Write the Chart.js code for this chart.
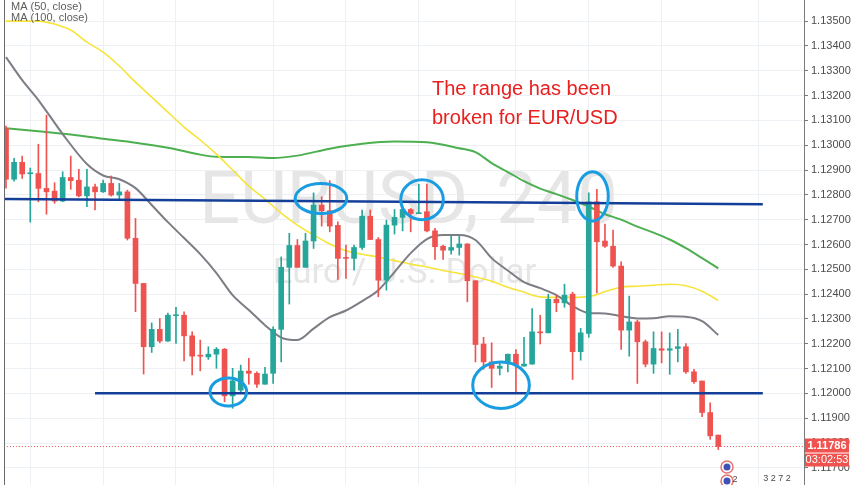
<!DOCTYPE html>
<html>
<head>
<meta charset="utf-8">
<script src="https://cdn.jsdelivr.net/npm/chart.js@4.4.1/dist/chart.umd.min.js"></script>
<style>
html, body { margin: 0; padding: 0; background: #fff; }
#wrap { width: 852px; height: 485px; }
</style>
</head>
<body>
<div id="wrap"><canvas id="c" width="852" height="485"></canvas></div>
<script>
// EURUSD 4h candles (index = candle number)
var opens = [1.13068, 1.12863, 1.12931, 1.12885, 1.12886, 1.12826, 1.12815, 1.12775, 1.12870, 1.12859,
  1.12796, 1.12832, 1.12812, 1.12846, 1.12799, 1.12812, 1.12625, 1.12443, 1.12188, 1.12258,
  1.12211, 1.12313, 1.12315, 1.12232, 1.12152, 1.12147, 1.12158, 1.12178, 1.11990, 1.12013,
  1.12090, 1.12081, 1.12037, 1.12081, 1.12258, 1.12508, 1.12596, 1.12508, 1.12614, 1.12759,
  1.12736, 1.12677, 1.12546, 1.12544, 1.12588, 1.12714, 1.12620, 1.12456, 1.12678, 1.12709,
  1.12741, 1.12724, 1.12732, 1.12655, 1.12593, 1.12577, 1.12588, 1.12602, 1.12454, 1.12199,
  1.12127, 1.12101, 1.12121, 1.12158, 1.12110, 1.12118, 1.12248, 1.12244, 1.12379, 1.12365,
  1.12400, 1.12168, 1.12242, 1.12772, 1.12614, 1.12593, 1.12513, 1.12255, 1.12288, 1.12208,
  1.12118, 1.12180, 1.12174, 1.12181, 1.12188, 1.12087, 1.12050, 1.11923, 1.11832];
var highs = [1.13077, 1.12947, 1.12956, 1.12908, 1.13004, 1.13121, 1.12849, 1.12893, 1.12956, 1.12903,
  1.12903, 1.12843, 1.12859, 1.12876, 1.12846, 1.12819, 1.12705, 1.12443, 1.12284, 1.12302,
  1.12324, 1.12347, 1.12329, 1.12248, 1.12215, 1.12188, 1.12185, 1.12181, 1.12101, 1.12114,
  1.12141, 1.12087, 1.12105, 1.12268, 1.12550, 1.12645, 1.12620, 1.12645, 1.12808, 1.12792,
  1.12857, 1.12691, 1.12598, 1.12598, 1.12739, 1.12739, 1.12628, 1.12698, 1.12741, 1.12752,
  1.12745, 1.12843, 1.12843, 1.12665, 1.12598, 1.12634, 1.12634, 1.12604, 1.12454, 1.12226,
  1.12204, 1.12121, 1.12158, 1.12177, 1.12226, 1.12342, 1.12315, 1.12400, 1.12396, 1.12440,
  1.12408, 1.12262, 1.12808, 1.12822, 1.12682, 1.12658, 1.12530, 1.12392, 1.12295, 1.12215,
  1.12248, 1.12248, 1.12244, 1.12258, 1.12201, 1.12097, 1.12050, 1.11962, 1.11832];
var lows = [1.12827, 1.12855, 1.12866, 1.12690, 1.12772, 1.12722, 1.12766, 1.12772, 1.12822, 1.12792,
  1.12752, 1.12739, 1.12810, 1.12795, 1.12782, 1.12618, 1.12329, 1.12078, 1.12165, 1.12204,
  1.12209, 1.12201, 1.12131, 1.12074, 1.12091, 1.12137, 1.12101, 1.11966, 1.11940, 1.12006,
  1.12037, 1.12024, 1.12037, 1.12040, 1.12127, 1.12360, 1.12508, 1.12508, 1.12584, 1.12674,
  1.12651, 1.12459, 1.12463, 1.12497, 1.12580, 1.12620, 1.12389, 1.12416, 1.12642, 1.12655,
  1.12651, 1.12725, 1.12651, 1.12540, 1.12540, 1.12561, 1.12557, 1.12369, 1.12127, 1.12097,
  1.12024, 1.12074, 1.12087, 1.12000, 1.12110, 1.12118, 1.12199, 1.12244, 1.12329, 1.12347,
  1.12056, 1.12134, 1.12226, 1.12405, 1.12588, 1.12508, 1.12177, 1.12150, 1.12040, 1.12107,
  1.12081, 1.12123, 1.12077, 1.12127, 1.12081, 1.12040, 1.11906, 1.11815, 1.11774];
var closes = [1.12863, 1.12931, 1.12884, 1.12887, 1.12826, 1.12812, 1.12775, 1.12870, 1.12857, 1.12796,
  1.12832, 1.12812, 1.12846, 1.12799, 1.12812, 1.12625, 1.12443, 1.12188, 1.12258, 1.12211,
  1.12315, 1.12315, 1.12232, 1.12150, 1.12150, 1.12158, 1.12178, 1.11990, 1.12051, 1.12090,
  1.12081, 1.12037, 1.12078, 1.12258, 1.12508, 1.12596, 1.12508, 1.12614, 1.12759, 1.12736,
  1.12674, 1.12544, 1.12544, 1.12588, 1.12714, 1.12620, 1.12456, 1.12678, 1.12709, 1.12741,
  1.12725, 1.12728, 1.12655, 1.12591, 1.12577, 1.12588, 1.12602, 1.12454, 1.12197, 1.12127,
  1.12101, 1.12110, 1.12158, 1.12114, 1.12118, 1.12248, 1.12244, 1.12379, 1.12365, 1.12396,
  1.12168, 1.12244, 1.12772, 1.12611, 1.12593, 1.12513, 1.12255, 1.12288, 1.12208, 1.12118,
  1.12181, 1.12174, 1.12180, 1.12188, 1.12087, 1.12047, 1.11923, 1.11829, 1.11786];
var lastPrice = 1.11786;

// moving averages, sampled at candle indexes
var grayIdx = [0, 2, 4, 7, 10, 12, 14, 16, 18, 20, 22, 24, 26, 28, 30, 32, 34, 36, 38, 40, 42, 44,
  46, 48, 50, 52, 54, 56, 58, 60, 62, 64, 66, 68, 70, 72, 74, 76, 78, 80, 82, 84, 86, 88];
var grayMa = [1.13355, 1.13262, 1.13182, 1.13045, 1.12924, 1.12878, 1.12863, 1.12827, 1.12759, 1.12690,
  1.12626, 1.12561, 1.12485, 1.12396, 1.12336, 1.12275, 1.12225, 1.12215, 1.12261, 1.12307, 1.12334,
  1.12372, 1.12416, 1.12489, 1.12565, 1.12622, 1.12638, 1.12638, 1.12618, 1.12545, 1.12495, 1.12448,
  1.12424, 1.12396, 1.12352, 1.12324, 1.12322, 1.12311, 1.12302, 1.12303, 1.12311, 1.12309, 1.12291, 1.12235];
var ma50Idx = [0, 4, 6, 8, 10, 12, 14, 16, 18, 20, 22, 24, 26, 28, 30, 32, 34, 36, 38, 40, 42, 44,
  46, 48, 50, 52, 54, 56, 58, 60, 62, 64, 66, 68, 70, 72, 74, 76, 78, 80, 82, 84, 86, 88];
var ma50 = [1.13500, 1.13500, 1.13488, 1.13464, 1.13415, 1.13375, 1.13319, 1.13254, 1.13194, 1.13133,
  1.13073, 1.13021, 1.12964, 1.12900, 1.12835, 1.12783, 1.12726, 1.12678, 1.12638, 1.12602, 1.12575,
  1.12561, 1.12549, 1.12535, 1.12521, 1.12509, 1.12495, 1.12483, 1.12469, 1.12452, 1.12428, 1.12408,
  1.12389, 1.12387, 1.12387, 1.12390, 1.12410, 1.12428, 1.12432, 1.12436, 1.12440, 1.12434, 1.12412, 1.12374];
var ma100Idx = [0, 4, 8, 12, 16, 20, 24, 26, 30, 33, 36, 40, 44, 48, 52, 56, 58, 60, 62, 64, 66, 68,
  70, 72, 74, 76, 78, 80, 82, 84, 86, 88];
var ma100 = [1.13068, 1.13056, 1.13043, 1.13026, 1.13010, 1.12990, 1.12962, 1.12953, 1.12952, 1.12948,
  1.12958, 1.12986, 1.13006, 1.13015, 1.13012, 1.12988, 1.12972, 1.12928, 1.12892, 1.12855, 1.12825,
  1.12803, 1.12779, 1.12753, 1.12722, 1.12700, 1.12672, 1.12648, 1.12620, 1.12585, 1.12545, 1.12504];

// hand drawn range lines
var upperIdx = [-0.3, 93.5];
var upperPrice = [1.12783, 1.12762];
var lowerIdx = [11, 93.5];
var lowerPrice = [1.12001, 1.12001];

// circled touches: centre candle, centre price, half width (candles), half height (price)
var ringIdx = [27.47, 38.92, 51.4, 72.46, 61.16];
var ringPrice = [1.12006, 1.12785, 1.12780, 1.12794, 1.12033];
var ringW = [2.26, 3.19, 2.63, 1.95, 3.5];
var ringH = [0.000564, 0.000604, 0.000806, 0.000995, 0.000939];

var yTicks = [1.117, 1.118, 1.119, 1.120, 1.121, 1.122, 1.123, 1.124, 1.125, 1.126, 1.127,
  1.128, 1.129, 1.130, 1.131, 1.132, 1.133, 1.134, 1.135];
var dayLines = [3, 12, 21, 33, 42, 51, 63, 72, 81, 93];

var up = '#26a69a', down = '#ef5350';
var candleColors = opens.map(function (o, i) { return closes[i] >= o ? up : down; });

function pts(idx, vals) {
	return idx.map(function (x, k) { return { x: x, y: vals[k] }; });
}

var decor = {
	id: 'decor',
	beforeDatasetsDraw: function (chart) {
		var ctx = chart.ctx, a = chart.chartArea;
		var cx = (a.left + a.right) / 2;
		ctx.save();
		ctx.fillStyle = '#e6e6e6';
		ctx.textAlign = 'center';
		ctx.font = '72px Roboto';
		ctx.fillText('EURUSD, 240', cx + 4, 223);
		ctx.font = '35px Roboto';
		ctx.fillText('Euro / U.S. Dollar', cx, 283);
		ctx.restore();
	},
	afterDatasetsDraw: function (chart) {
		var ctx = chart.ctx, xs = chart.scales.x, ys = chart.scales.y;
		ctx.save();
		ctx.strokeStyle = '#1a9de0';
		ctx.lineWidth = 3;
		for (var i = 0; i < ringIdx.length; i++) {
			var px = xs.getPixelForValue(ringIdx[i]);
			var py = ys.getPixelForValue(ringPrice[i]);
			var rx = xs.getPixelForValue(ringIdx[i] + ringW[i]) - px;
			var ry = py - ys.getPixelForValue(ringPrice[i] + ringH[i]);
			ctx.beginPath();
			ctx.ellipse(px, py, rx, ry, 0, 0, Math.PI * 2);
			ctx.stroke();
		}
		// left frame
		ctx.strokeStyle = '#6b6b6b';
		ctx.lineWidth = 1;
		ctx.beginPath();
		ctx.moveTo(4.5, 0);
		ctx.lineTo(4.5, chart.height);
		ctx.stroke();
		ctx.restore();
	},
	afterDraw: function (chart) {
		var ctx = chart.ctx, ys = chart.scales.y, a = chart.chartArea;
		ctx.save();
		// note
		ctx.fillStyle = '#e8201f';
		ctx.font = '20px "Liberation Sans"';
		ctx.textAlign = 'left';
		ctx.fillText('The range has been', 432, 95);
		ctx.fillText('broken for EUR/USD', 432, 124);
		// study legend
		ctx.fillStyle = '#5d5d5d';
		ctx.font = '11px "Liberation Sans"';
		ctx.fillText('MA (50, close)', 11, 10);
		ctx.fillText('MA (100, close)', 11, 21);
		// last price tag + countdown
		var py = ys.getPixelForValue(lastPrice);
		ctx.fillStyle = '#ef5350';
		ctx.fillRect(a.right + 1, py - 8, 44, 14);
		ctx.fillRect(a.right + 1, py + 7, 44, 13);
		ctx.fillStyle = '#fff';
		ctx.textAlign = 'center';
		ctx.textBaseline = 'middle';
		ctx.font = 'bold 11px "Liberation Sans"';
		ctx.fillText(lastPrice.toFixed(5), a.right + 23, py - 1);
		ctx.font = '11px "Liberation Sans"';
		ctx.fillText('03:02:53', a.right + 23, py + 13.5);
		// event markers
		ctx.lineWidth = 1.5;
		ctx.strokeStyle = '#e57373';
		[[727, 467], [727, 481]].forEach(function (p) {
			ctx.beginPath();
			ctx.arc(p[0], p[1], 6, 0, Math.PI * 2);
			ctx.fillStyle = '#ffffff';
			ctx.fill();
			ctx.stroke();
			ctx.beginPath();
			ctx.arc(p[0], p[1], 3.5, 0, Math.PI * 2);
			ctx.fillStyle = '#3f51b5';
			ctx.fill();
		});
		ctx.font = '9px "Liberation Sans"';
		ctx.fillStyle = '#4a4a4a';
		ctx.fillText('2', 735, 480);
		ctx.fillText('3 2 7 2', 777, 479);
		ctx.restore();
	}
};

var chart = new Chart(document.getElementById('c').getContext('2d'), {
	type: 'bar',
	data: {
		datasets: [
			{ type: 'line', data: pts(upperIdx, upperPrice), borderColor: '#133f99', borderWidth: 2.5, pointRadius: 0, order: 0 },
			{ type: 'line', data: pts(lowerIdx, lowerPrice), borderColor: '#133f99', borderWidth: 2.5, pointRadius: 0, order: 0 },
			{
				label: 'body',
				data: opens.map(function (o, i) { return { x: i, y: [o, closes[i]] }; }),
				backgroundColor: candleColors, barThickness: 5, grouped: false, minBarLength: 1, order: 1
			},
			{
				label: 'wick',
				data: lows.map(function (l, i) { return { x: i, y: [l, highs[i]] }; }),
				backgroundColor: candleColors, barThickness: 1, grouped: false, order: 2
			},
			{ type: 'line', data: pts(grayIdx, grayMa), borderColor: '#7d7d85', borderWidth: 2, pointRadius: 0, cubicInterpolationMode: 'monotone', order: 3 },
			{ type: 'line', data: pts(ma50Idx, ma50), borderColor: '#f7e43a', borderWidth: 1.6, pointRadius: 0, cubicInterpolationMode: 'monotone', order: 3 },
			{ type: 'line', data: pts(ma100Idx, ma100), borderColor: '#4caf50', borderWidth: 2, pointRadius: 0, cubicInterpolationMode: 'monotone', order: 3 },
			{ type: 'line', data: [{ x: -1, y: lastPrice }, { x: 100, y: lastPrice }], borderColor: '#ef5350', borderWidth: 1, borderDash: [1, 2], pointRadius: 0, order: 4 }
		]
	},
	options: {
		responsive: false,
		animation: false,
		events: [],
		layout: { padding: { left: 5, right: 0, top: 0, bottom: 0 } },
		plugins: { legend: { display: false }, tooltip: { enabled: false } },
		scales: {
			x: {
				type: 'linear', min: -0.1235, max: 98.59, offset: false,
				grid: { color: '#edf1f5', offset: false, drawTicks: false },
				border: { display: false },
				ticks: { display: false },
				afterBuildTicks: function (s) { s.ticks = dayLines.map(function (v) { return { value: v }; }); },
				afterFit: function (s) { s.height = 0; s.paddingLeft = 0; s.paddingRight = 0; }
			},
			y: {
				type: 'linear', position: 'right', min: 1.11631, max: 1.13585,
				grid: { color: '#edf1f5', tickColor: '#7a7a7a', tickLength: 4 },
				border: { color: '#7a7a7a' },
				ticks: {
					color: '#4c4c4c', padding: 3,
					font: { family: 'Liberation Sans', size: 11 },
					callback: function (v) { return v.toFixed(5); }
				},
				afterBuildTicks: function (s) { s.ticks = yTicks.map(function (v) { return { value: v }; }); },
				afterFit: function (s) { s.width = 48; s.paddingTop = 0; s.paddingBottom = 0; }
			}
		}
	},
	plugins: [decor]
});
</script>
</body>
</html>
